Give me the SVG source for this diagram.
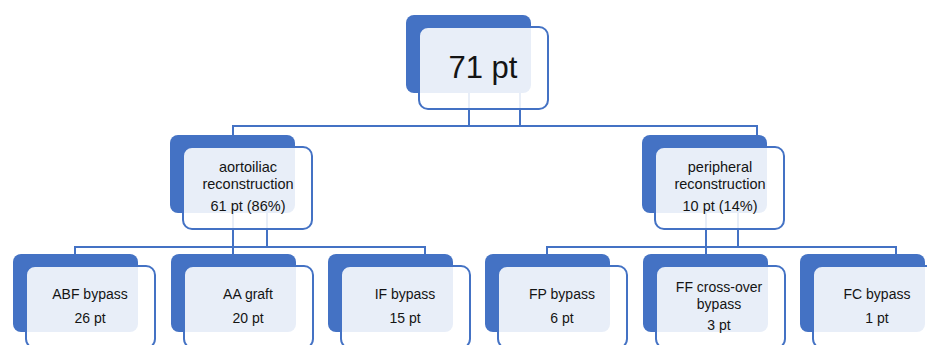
<svg xmlns="http://www.w3.org/2000/svg" width="927" height="345" viewBox="0 0 927 345">
  <style>
    .back { fill: #4472C4; }
    .front { fill: #FFFFFF; fill-opacity: 0.88; stroke: #4472C4; stroke-width: 2; }
    .link { fill: none; stroke: #4472C4; stroke-width: 2; }
    text { font-family: "Liberation Sans", Arial, sans-serif; fill: #141414; text-anchor: middle; }
    .t1 { font-size: 31px; }
    .t2 { font-size: 14.5px; }
    .t3 { font-size: 14px; }
  </style>
  <rect width="927" height="345" fill="#FFFFFF"/>

  <!-- connectors -->
  <g id="connectors">
    <path class="link" d="M469 93 V126 M520 93 V126 M233 126 H757 M233 125 V135 M757 125 V135"/>
    <path class="link" d="M233 213 V254 M267 213 V247 M75 247 H425 M75 246 V254 M425 246 V254"/>
    <path class="link" d="M706 213 V254 M738 213 V247 M547 247 H896 M547 246 V254 M896 246 V254"/>
  </g>

  <!-- root -->
  <g id="n-total">
    <rect class="back" x="406" y="15" width="125" height="78" rx="8"/>
    <rect class="front" x="419" y="27" width="129" height="82" rx="9"/>
    <text class="t1" x="483" y="78">71 pt</text>
  </g>

  <!-- second level -->
  <g id="n-aortoiliac">
    <rect class="back" x="170" y="135" width="125" height="78" rx="8"/>
    <rect class="front" x="183" y="147" width="129" height="82" rx="9"/>
    <text class="t2" x="248" y="172">aortoiliac</text>
    <text class="t2" x="248" y="189">reconstruction</text>
    <text class="t2" x="248" y="211">61 pt (86%)</text>
  </g>
  <g id="n-peripheral">
    <rect class="back" x="642" y="135" width="125" height="78" rx="8"/>
    <rect class="front" x="655" y="147" width="129" height="82" rx="9"/>
    <text class="t2" x="720" y="172">peripheral</text>
    <text class="t2" x="720" y="189">reconstruction</text>
    <text class="t2" x="720" y="211">10 pt (14%)</text>
  </g>

  <!-- third level -->
  <g id="n-abf">
    <rect class="back" x="13" y="254" width="125" height="78" rx="8"/>
    <rect class="front" x="26" y="266" width="129" height="82" rx="9"/>
    <text class="t3" x="90" y="299">ABF bypass</text>
    <text class="t3" x="90" y="323">26 pt</text>
  </g>
  <g id="n-aa">
    <rect class="back" x="171" y="254" width="125" height="78" rx="8"/>
    <rect class="front" x="184" y="266" width="129" height="82" rx="9"/>
    <text class="t3" x="248" y="299">AA graft</text>
    <text class="t3" x="248" y="323">20 pt</text>
  </g>
  <g id="n-if">
    <rect class="back" x="328" y="254" width="125" height="78" rx="8"/>
    <rect class="front" x="341" y="266" width="129" height="82" rx="9"/>
    <text class="t3" x="405" y="299">IF bypass</text>
    <text class="t3" x="405" y="323">15 pt</text>
  </g>
  <g id="n-fp">
    <rect class="back" x="485" y="254" width="125" height="78" rx="8"/>
    <rect class="front" x="498" y="266" width="129" height="82" rx="9"/>
    <text class="t3" x="562" y="299">FP bypass</text>
    <text class="t3" x="562" y="323">6 pt</text>
  </g>
  <g id="n-ff">
    <rect class="back" x="643" y="254" width="125" height="78" rx="8"/>
    <rect class="front" x="656" y="266" width="129" height="82" rx="9"/>
    <text class="t3" x="719" y="292">FF cross-over</text>
    <text class="t3" x="719" y="309">bypass</text>
    <text class="t3" x="719" y="330">3 pt</text>
  </g>
  <g id="n-fc">
    <rect class="back" x="800" y="254" width="125" height="78" rx="8"/>
    <rect class="front" x="813" y="266" width="129" height="82" rx="9"/>
    <text class="t3" x="877" y="299">FC bypass</text>
    <text class="t3" x="877" y="323">1 pt</text>
  </g>
</svg>
